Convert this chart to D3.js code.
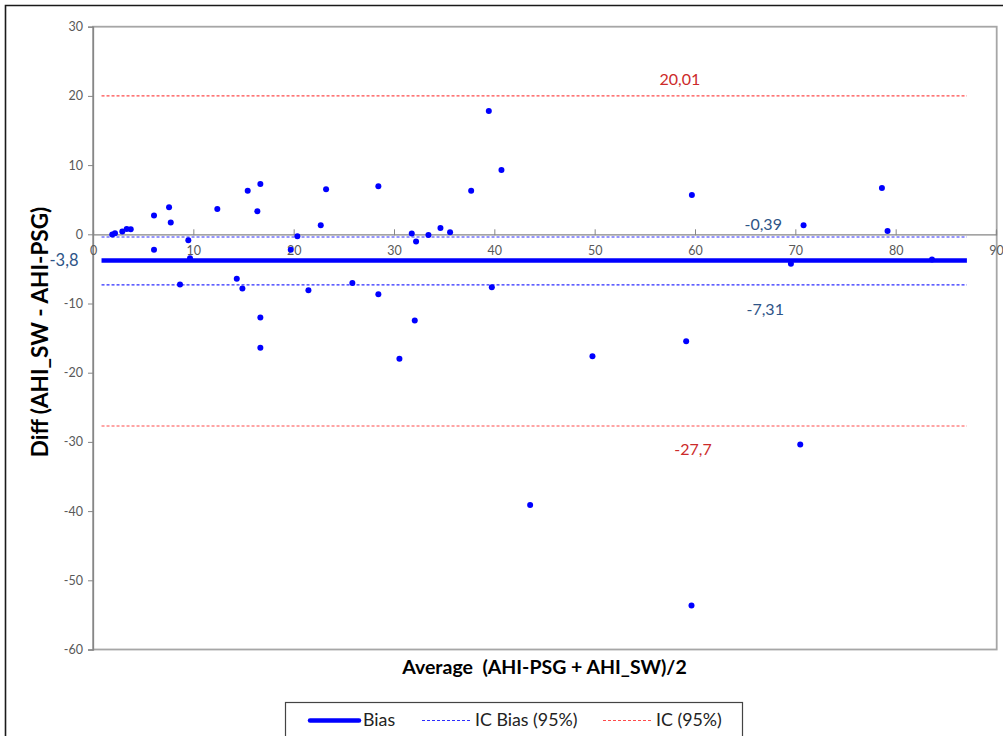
<!DOCTYPE html>
<html><head><meta charset="utf-8">
<script src="https://cdn.jsdelivr.net/npm/d3@7"></script>
<style>
html,body{margin:0;padding:0;background:#fff;}
svg{display:block;font-family:Lato,"Liberation Sans",sans-serif;}
</style></head>
<body><svg id="c" width="1003" height="736"></svg>
<script>
// ---- data ----
const avgValues = [1.92,2.19,2.92,3.36,3.76,6.08,6.08,7.58,7.75,9.50,9.67,8.67,12.39,15.42,16.68,16.38,14.33,14.89,16.68,16.68,19.71,20.37,21.47,22.70,23.23,25.85,28.44,28.44,39.45,40.71,37.69,31.77,32.20,33.43,34.63,35.59,39.75,32.07,30.54,49.78,59.69,78.63,70.82,79.19,69.56,83.62,59.12,43.57,59.65,70.49];
const diffValues = [-0.04,0.14,0.39,0.78,0.72,2.70,-2.25,3.90,1.69,-0.87,-3.46,-7.26,3.67,6.31,7.28,3.32,-6.44,-7.84,-12.03,-16.40,-2.25,-0.29,-8.09,1.30,6.50,-7.02,6.93,-8.66,17.82,9.30,6.31,0.10,-1.05,-0.09,0.92,0.29,-7.65,-12.46,-17.99,-17.61,5.69,6.70,1.30,0.49,-4.27,-3.65,-15.45,-39.13,-53.65,-30.36];
const bias = -3.8;
const icBias = [-0.39, -7.31];
const ic = [20.01, -27.7];
const lineX = [0.85, 87.1];
const xTicks = [0,10,20,30,40,50,60,70,80,90];
const yTicks = [30,20,10,0,-10,-20,-30,-40,-50,-60];
const refLabels = [
  {text:"20,01", v:20.01, x:58.5, dy:-15, kind:"ic"},
  {text:"-27,7", v:-27.7, x:59.8, dy:25, kind:"ic"},
  {text:"-0,39", v:-0.39, x:66.8, dy:-11, kind:"b"},
  {text:"-7,31", v:-7.31, x:67.0, dy:26, kind:"b"}
];
const legendItems = ["Bias","IC Bias (95%)","IC (95%)"];

// ---- chart ----
const svg = d3.select("#c");
const x = d3.scaleLinear().domain([0,90]).range([93,996]);
const y = d3.scaleLinear().domain([-60,30]).range([649.5,26.7]);
const fmt = d => String(d);

// outer chart border
svg.append("path").attr("d","M5.5,740 V5.5 H1010").attr("fill","none").attr("stroke","#1a1a1a").attr("stroke-width",1.6);

// plot area border (top/right/bottom)
svg.append("rect").attr("x",x(0)).attr("y",y(30)).attr("width",x(90)-x(0)+0.7).attr("height",y(-60)-y(30))
  .attr("fill","none").attr("stroke","#a6a6a6").attr("stroke-width",1.8);

// y axis
const yAx = svg.append("g").attr("transform",`translate(${x(0)},0)`)
  .call(d3.axisLeft(y).tickValues(yTicks).tickSize(5).tickPadding(5).tickFormat(fmt));
yAx.select(".domain").attr("stroke","#868686").attr("stroke-width",1.3);
yAx.selectAll(".tick line").attr("stroke","#868686");
yAx.selectAll(".tick text").attr("fill","#595959").style("font-size","12.5px").style("font-family","Lato,'Liberation Sans',sans-serif");

// x axis at zero: tick marks (upwards) and labels (below)
const xAxMarks = svg.append("g").attr("transform",`translate(0,${y(0)})`)
  .call(d3.axisTop(x).tickValues(xTicks).tickSize(4).tickFormat(""));
xAxMarks.select(".domain").attr("stroke","#868686").attr("stroke-width",1.3);
xAxMarks.selectAll(".tick line").attr("stroke","#868686").attr("y2",-5).attr("y1",1);
const xAxLab = svg.append("g").attr("transform",`translate(0,${y(0)})`)
  .call(d3.axisBottom(x).tickValues(xTicks).tickSize(0).tickPadding(12).tickFormat(fmt));
xAxLab.select(".domain").remove();
xAxLab.selectAll(".tick text").attr("fill","#595959").style("font-size","12.5px").style("font-family","Lato,'Liberation Sans',sans-serif");

// reference lines
function hline(v, color, w, dash){
  svg.append("line").attr("x1",x(lineX[0])).attr("x2",x(lineX[1])).attr("y1",y(v)).attr("y2",y(v))
    .attr("stroke",color).attr("stroke-width",w).attr("stroke-dasharray",dash||null);
}
ic.forEach(v=>hline(v,"#ff4b4b",1.1,"3,2"));
icBias.forEach(v=>hline(v,"#2d2dff",1.1,"3,2"));
hline(bias,"#0000ff",4.5,null);

// points
svg.append("g").selectAll("circle").data(avgValues).join("circle")
  .attr("cx",(d)=>x(d)).attr("cy",(d,i)=>y(diffValues[i])).attr("r",3).attr("fill","#0000ff");

// reference labels
refLabels.forEach(l=>{
  svg.append("text").attr("x",x(l.x)).attr("y",y(l.v)+l.dy).attr("text-anchor","middle")
    .attr("dominant-baseline","middle")
    .attr("fill", l.kind==="ic" ? "#cc2a2a" : "#2e5487")
    .style("font-size","16px").text(l.text);
});
svg.append("text").attr("x",64).attr("y",y(bias)+1).attr("text-anchor","middle").attr("dominant-baseline","middle")
  .attr("fill","#2e5487").style("font-size","16.5px").text("-3,8");

// axis titles
svg.append("text").attr("transform",`translate(48,332) rotate(-90)`).attr("text-anchor","middle")
  .style("font-size","22.5px").style("font-weight","bold").attr("fill","#000").text("Diff (AHI_SW - AHI-PSG)");
svg.append("text").attr("x",(x(0)+x(90))/2).attr("y",674).attr("text-anchor","middle")
  .style("white-space","pre").attr("xml:space","preserve")
  .style("font-size","19.5px").style("font-weight","bold").attr("fill","#000").text("Average  (AHI-PSG + AHI_SW)/2");

// legend
const lg = svg.append("g");
lg.append("rect").attr("x",285.5).attr("y",702.5).attr("width",457).attr("height",50)
  .attr("fill","#fff").attr("stroke","#444").attr("stroke-width",1.2);
const lgSpec = [
  {x1:310,x2:359,color:"#0000ff",w:4.5,dash:null,tx:363},
  {x1:422,x2:470,color:"#2d2dff",w:1.1,dash:"3,2",tx:475},
  {x1:603,x2:652,color:"#ff4b4b",w:1.1,dash:"3,2",tx:656}
];
legendItems.forEach((t,i)=>{
  const s = lgSpec[i];
  lg.append("line").attr("x1",s.x1).attr("x2",s.x2).attr("y1",720.5).attr("y2",720.5)
    .attr("stroke",s.color).attr("stroke-width",s.w).attr("stroke-dasharray",s.dash).attr("stroke-linecap",s.dash?null:"round");
  lg.append("text").attr("x",s.tx).attr("y",721).attr("dominant-baseline","middle")
    .style("font-size","17.8px").attr("fill","#222").text(t);
});
</script></body></html>
